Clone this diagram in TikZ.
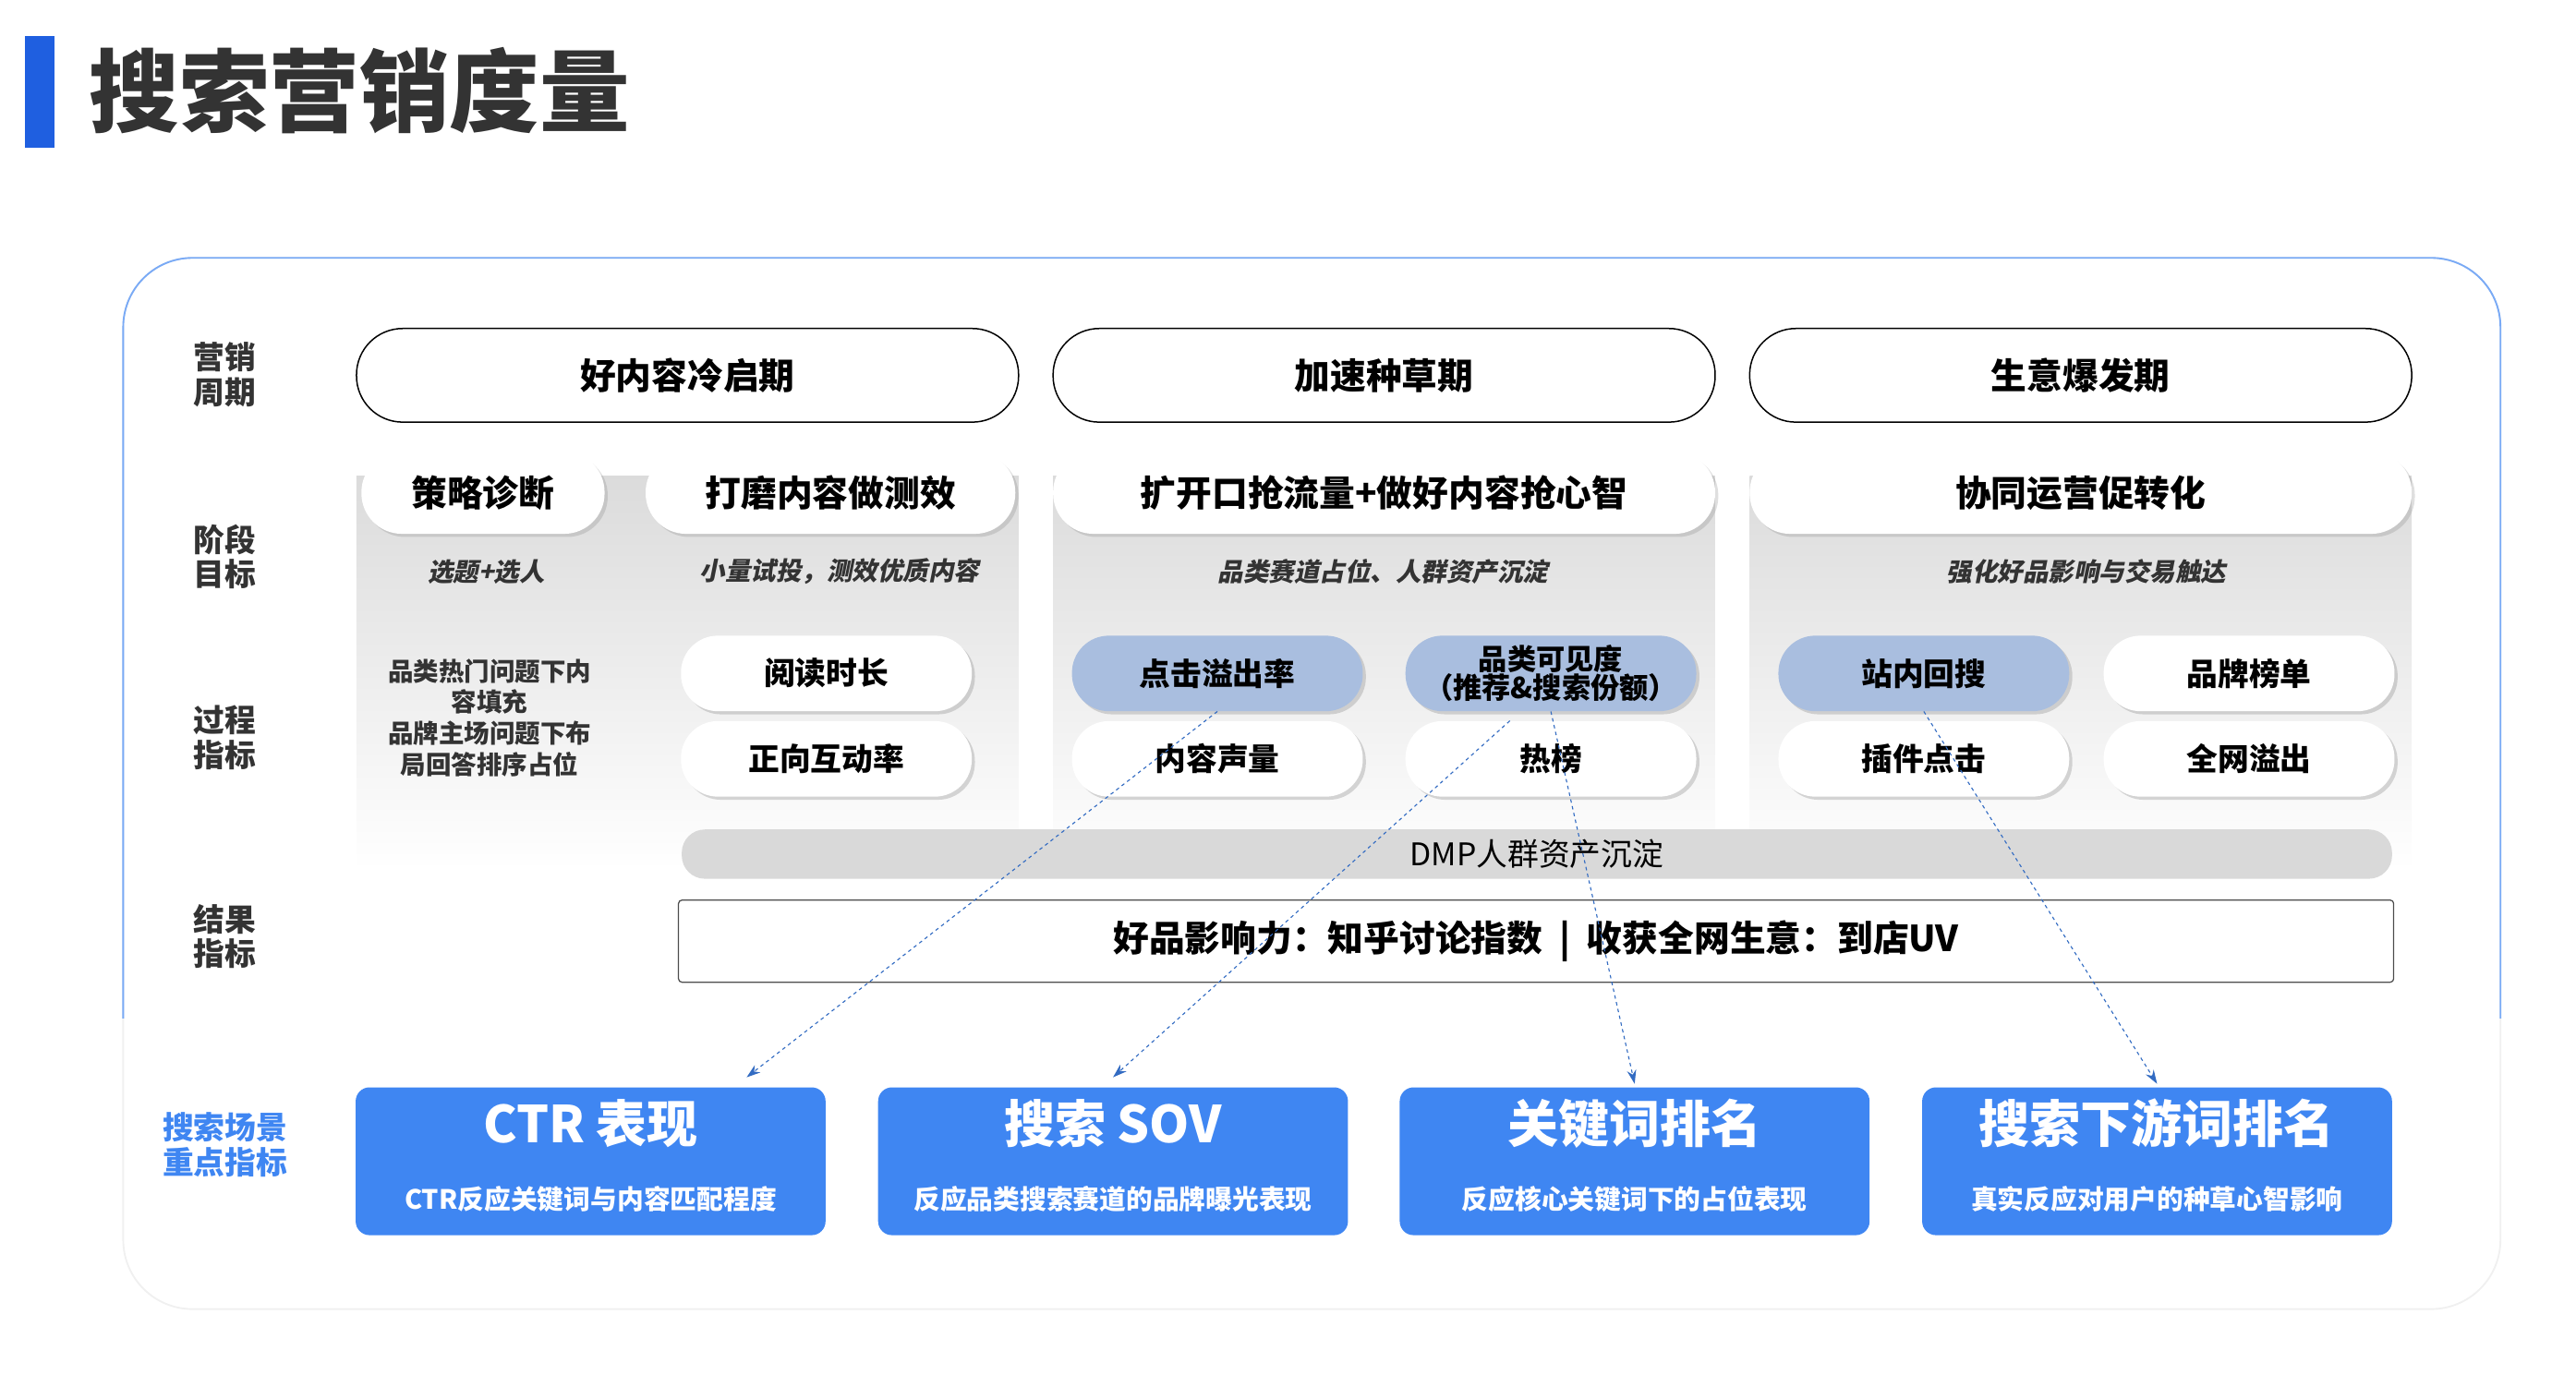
\documentclass[tikz,border=0pt]{standalone}
\usepackage{fontspec}
\setmainfont{Noto Sans CJK SC}
\newfontfamily\cjkit[FakeSlant=0.2]{Noto Sans CJK SC}
\usetikzlibrary{shadows,arrows.meta}
\definecolor{mainblue}{HTML}{3F86F2}
\definecolor{barblue}{HTML}{1F5FE0}
\definecolor{pillblue}{HTML}{A9BEDF}
\definecolor{titlegray}{HTML}{333333}
\tikzset{
  rowlabel/.style={font=\fontsize{27}{30}\selectfont\bfseries, align=center, text=titlegray},
  phasepill/.style={draw=black, line width=1.2pt, rounded corners=40pt, minimum width=403*0.05cm, minimum height=57*0.05cm, fill=white, font=\fontsize{31}{34}\selectfont\bfseries},
  stagepill/.style={fill=white, rounded corners=35pt, minimum height=50*0.05cm, drop shadow={opacity=0.25}, font=\fontsize{31}{34}\selectfont\bfseries},
  procpill/.style={fill=white, rounded corners=32pt, minimum width=177*0.05cm, minimum height=46*0.05cm, drop shadow={opacity=0.3}, font=\fontsize{27}{29}\selectfont\bfseries, align=center},
  hotpill/.style={procpill, fill=pillblue},
  subtext/.style={font=\cjkit\fontsize{22}{24}\selectfont\bfseries, text=titlegray},
  metricbox/.style={fill=mainblue, rounded corners=12pt, minimum width=286*0.05cm, minimum height=90*0.05cm},
  linkarrow/.style={dashed, draw=mainblue!80!black, line width=0.9pt, -{Stealth[length=12pt,width=8pt]}},
}
\begin{document}
\begin{tikzpicture}[x=0.05cm, y=-0.05cm]
\useasboundingbox (0,0) rectangle (1568,844);
% title
\fill[barblue] (15,22) rectangle (33,90);
\node[anchor=west, text=titlegray, font=\fontsize{78}{80}\selectfont\bfseries] (title) at (52,55) {搜索营销度量};
% frame
\draw[gray!12, line width=1.5pt, rounded corners=60pt] (75,157) rectangle (1522,797);
\draw[mainblue!70, line width=1.5pt, rounded corners=60pt] (75,620) -- (75,157) -- (1522,157) -- (1522,620);
% gray panels
\foreach \x in {217,641,1065}
  \shade[top color=gray!28, bottom color=white] (\x,290) rectangle ++(403,240);
% row labels
\node[rowlabel] (lcycle) at (137,228) {营销\\周期};
\node[rowlabel] (lgoal) at (137,339) {阶段\\目标};
\node[rowlabel] (lproc) at (137,449) {过程\\指标};
\node[rowlabel] (lres) at (137,570) {结果\\指标};
\node[rowlabel, text=mainblue] (lsearch) at (137,697) {搜索场景\\重点指标};
% phases
\node[phasepill] (p1) at (418.5,228.5) {好内容冷启期};
\node[phasepill] (p2) at (842.5,228.5) {加速种草期};
\node[phasepill] (p3) at (1266.5,228.5) {生意爆发期};
% stages
\node[stagepill, minimum width=148*0.05cm] (s1) at (294,300) {策略诊断};
\node[stagepill, minimum width=225*0.05cm] (s2) at (505.5,300) {打磨内容做测效};
\node[stagepill, minimum width=403*0.05cm] (s3) at (842.5,300) {扩开口抢流量+做好内容抢心智};
\node[stagepill, minimum width=403*0.05cm] (s4) at (1266.5,300) {协同运营促转化};
\node[subtext] (g1) at (296,348) {选题+选人};
\node[subtext] (g2) at (511,348) {小量试投，测效优质内容};
\node[subtext] (g3) at (842,348) {品类赛道占位、人群资产沉淀};
\node[subtext] (g4) at (1270,348) {强化好品影响与交易触达};
% process metrics
\node[align=center, font=\fontsize{22}{27}\selectfont\bfseries, text=titlegray] (plan) at (298,437) {品类热门问题下内\\容填充\\品牌主场问题下布\\局回答排序占位};
\node[procpill] (read) at (503,410) {阅读时长};
\node[procpill] (inter) at (503,462) {正向互动率};
\node[hotpill] (click) at (741,410) {点击溢出率};
\node[hotpill, font=\fontsize{25}{25}\selectfont\bfseries] (vis) at (944,410) {品类可见度\\（推荐\&搜索份额）};
\node[procpill] (voice) at (741,462) {内容声量};
\node[procpill] (hot) at (944,462) {热榜};
\node[hotpill] (back) at (1171,410) {站内回搜};
\node[procpill] (rank) at (1369,410) {品牌榜单};
\node[procpill] (plug) at (1171,462) {插件点击};
\node[procpill] (spill) at (1369,462) {全网溢出};
% result
\node[fill=gray!30, rounded corners=20pt, minimum width=1041*0.05cm, minimum height=30*0.05cm, font=\fontsize{27}{29}\selectfont] (dmp) at (935.5,520) {DMP人群资产沉淀};
\node[draw=black!70, line width=1pt, rounded corners=3pt, minimum width=1044*0.05cm, minimum height=50*0.05cm, font=\fontsize{31}{34}\selectfont\bfseries] (res) at (935,573) {好品影响力：知乎讨论指数 ~|~ 收获全网生意：到店UV};
% search metrics
\node[metricbox] (ctr) at (359.5,707) {};
\node[metricbox] (sov) at (677.5,707) {};
\node[metricbox] (kw) at (995,707) {};
\node[metricbox] (down) at (1313,707) {};
\foreach \n/\t/\s in {ctr/CTR 表现/CTR反应关键词与内容匹配程度, sov/搜索 SOV/反应品类搜索赛道的品牌曝光表现, kw/关键词排名/反应核心关键词下的占位表现, down/搜索下游词排名/真实反应对用户的种草心智影响}{
  \node[text=white, font=\fontsize{44}{46}\selectfont\bfseries] at ([yshift=-22*0.05cm]\n.north) {\t};
  \node[text=white, font=\fontsize{23}{25}\selectfont\bfseries] at ([yshift=22*0.05cm]\n.south) {\s};
}
% links
\draw[linkarrow] (click.south) -- ([xshift=95*0.05cm,yshift=6*0.05cm]ctr.north);
\draw[linkarrow] ([xshift=-25*0.05cm]hot.north) -- ([yshift=6*0.05cm]sov.north);
\draw[linkarrow] (vis.south) -- ([yshift=2*0.05cm]kw.north);
\draw[linkarrow] (back.south) -- ([yshift=2*0.05cm]down.north);
\end{tikzpicture}
\end{document}
